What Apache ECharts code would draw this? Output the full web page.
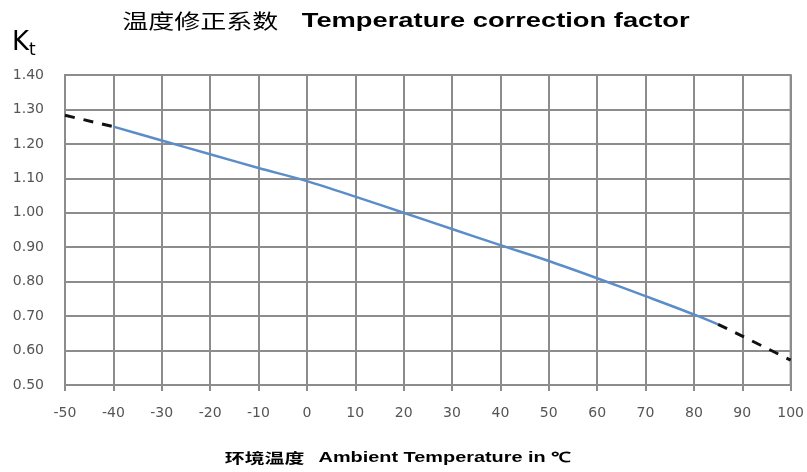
<!DOCTYPE html>
<html><head><meta charset="utf-8">
<script src="https://cdn.jsdelivr.net/npm/echarts@6/dist/echarts.min.js"></script>
<style>html,body{margin:0;padding:0;background:#fff}#c{width:807px;height:472px}</style>
</head><body><div id="c"></div>
<script>
const xTicks = [-50,-40,-30,-20,-10,0,10,20,30,40,50,60,70,80,90,100];
const yTicks = [0.50,0.60,0.70,0.80,0.90,1.00,1.10,1.20,1.30,1.40];
const solidT = [-40,-30,-20,-10,0,10,20,30,40,50,60,70,80,85];
const solidK = [1.25,1.21,1.17,1.13,1.092,1.047,1.00,0.953,0.906,0.86,0.81,0.758,0.705,0.676];
const dashLowT = [-50,-40];
const dashLowK = [1.283,1.25];
const dashHighT = [85,90,100];
const dashHighK = [0.676,0.642,0.572];

const pairs = (xs, ys) => xs.map((x,i)=>[x, ys[i]]);
const chart = echarts.init(document.getElementById('c'));
const gridCol = '#8c8c8c';
chart.setOption({
  animation:false,
  graphic:[{
    type:'text', x:406, y:11, scaleX:1.3,
    style:{text:'{cn|温度修正系数}{en|Temperature correction factor}', align:'center',
      rich:{
        cn:{fontFamily:'Noto Sans CJK SC',fontSize:20,fontWeight:'normal',color:'#222'},
        en:{fontFamily:'Liberation Sans',fontSize:21,fontWeight:'bold',color:'#111',padding:[0,0,0,18]}
      }}
  },{
    type:'text', x:12, y:28,
    style:{text:'{k|K}{t|t}', rich:{
      k:{fontFamily:'DejaVu Sans',fontSize:26,color:'#111'},
      t:{fontFamily:'DejaVu Sans',fontSize:17,color:'#111',padding:[14,0,0,0]}
    }}
  },{
    type:'text', x:398, y:451, scaleX:1.42,
    style:{text:'{cn|环境温度}   {en|Ambient Temperature in ℃}', align:'center', rich:{
      cn:{fontFamily:'Noto Sans CJK SC',fontSize:14,fontWeight:'bold',color:'#111'},
      en:{fontFamily:'Liberation Sans',fontSize:14,fontWeight:'bold',color:'#111'}
    }}
  }],
  grid:{left:65,right:13,top:75,bottom:87,show:true,borderColor:gridCol,borderWidth:2},
  xAxis:{type:'value',min:xTicks[0],max:xTicks[xTicks.length-1],interval:10,
    axisLine:{show:true,lineStyle:{color:gridCol,width:2}},
    axisTick:{show:true,length:6,lineStyle:{color:gridCol,width:2}},
    splitLine:{show:true,lineStyle:{color:gridCol,width:2}},
    axisLabel:{margin:21,color:'#555',fontSize:14,fontFamily:'DejaVu Sans'}},
  yAxis:{type:'value',min:yTicks[0],max:yTicks[yTicks.length-1],interval:0.1,
    axisLine:{show:true,lineStyle:{color:gridCol,width:2}},
    axisTick:{show:true,length:6,lineStyle:{color:gridCol,width:2}},
    splitLine:{show:true,lineStyle:{color:gridCol,width:2}},
    axisLabel:{margin:21,color:'#555',fontSize:14,fontFamily:'DejaVu Sans',formatter:v=>v.toFixed(2)}},
  series:[
    {type:'line',data:pairs(solidT,solidK),smooth:0.3,showSymbol:false,
      lineStyle:{color:'#5b8dc9',width:2.5}},
    {type:'line',data:pairs(dashLowT,dashLowK),showSymbol:false,
      lineStyle:{color:'#111',width:3,type:[10,9]}},
    {type:'line',data:pairs(dashHighT,dashHighK),smooth:0.3,showSymbol:false,
      lineStyle:{color:'#111',width:3,type:[10,9]}}
  ]
});
</script></body></html>
